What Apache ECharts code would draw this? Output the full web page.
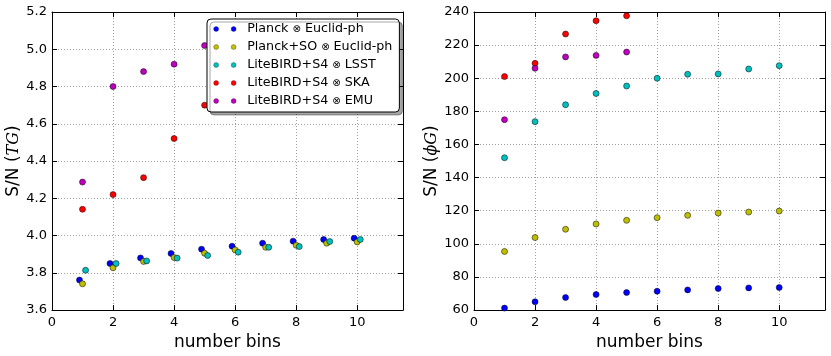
<!DOCTYPE html>
<html>
<head>
<meta charset="utf-8">
<script src="https://cdn.jsdelivr.net/npm/echarts@6/dist/echarts.min.js"></script>
<style>html,body{margin:0;padding:0;background:#fff}#c{width:831px;height:356px}</style>
</head>
<body>
<div id="c"></div>
<script>
// ---- data ----
var bins = [1, 2, 3, 4, 5, 6, 7, 8, 9, 10];
var binsShort = [1, 2, 3, 4, 5];
var seriesNames = ['Planck \u2297 Euclid-ph', 'Planck+SO \u2297 Euclid-ph', 'LiteBIRD+S4 \u2297 LSST', 'LiteBIRD+S4 \u2297 SKA', 'LiteBIRD+S4 \u2297 EMU'];
// S/N (TG)
var tgPlanck   = [3.761, 3.850, 3.880, 3.904, 3.927, 3.943, 3.959, 3.970, 3.979, 3.986];
var tgPlanckSO = [3.741, 3.827, 3.861, 3.882, 3.905, 3.923, 3.937, 3.948, 3.959, 3.966];
var tgLSST     = [3.814, 3.850, 3.864, 3.879, 3.893, 3.911, 3.937, 3.941, 3.968, 3.979];
var tgSKA      = [4.141, 4.220, 4.311, 4.521, 4.700];
var tgEMU      = [4.287, 4.800, 4.880, 4.920, 5.020];
var tgShift    = [-0.1, 0, 0.1, 0, 0];   // horizontal offsets of the bins in the TG panel
// S/N (phiG)
var pgPlanck   = [61.2, 65.0, 67.6, 69.4, 70.6, 71.4, 72.2, 73.0, 73.4, 73.6];
var pgPlanckSO = [95.4, 103.8, 108.8, 112.0, 114.2, 115.8, 117.2, 118.6, 119.2, 119.8];
var pgLSST     = [152.0, 173.8, 184.0, 190.8, 195.3, 200.0, 202.4, 202.6, 205.6, 207.6];
var pgSKA      = [201.0, 209.0, 226.7, 234.7, 237.7];
var pgEMU      = [175.0, 206.0, 212.9, 213.8, 215.8];
var xTicks = [0, 2, 4, 6, 8, 10];
var tgTicks = [3.6, 3.8, 4.0, 4.2, 4.4, 4.6, 4.8, 5.0, 5.2];
var pgTicks = [60, 80, 100, 120, 140, 160, 180, 200, 220, 240];

// ---- styles ----
var colors = ['#0000ff', '#bfbf00', '#00bfbf', '#ff0000', '#bf00bf'];
var FONT = 'DejaVu Sans';

function pairs(xs, ys, shift) {
  return ys.map(function (v, i) { return [xs[i] + shift, v]; });
}
function mk(name, idx, xi, yi, data) {
  return {
    type: 'scatter', name: name, xAxisIndex: xi, yAxisIndex: yi,
    data: data, symbol: 'circle', symbolSize: 6, clip: false,
    itemStyle: { color: colors[idx], borderColor: '#000', borderWidth: 0.5, opacity: 1 },
    emphasis: { disabled: true }, animation: false
  };
}
var tgSets = [tgPlanck, tgPlanckSO, tgLSST, tgSKA, tgEMU];
var pgSets = [pgPlanck, pgPlanckSO, pgLSST, pgSKA, pgEMU];
var series = [];
tgSets.forEach(function (s, i) {
  series.push(mk(seriesNames[i], i, 0, 0, pairs(s.length === 10 ? bins : binsShort, s, tgShift[i])));
});
pgSets.forEach(function (s, i) {
  series.push(mk(seriesNames[i], i, 2, 2, pairs(s.length === 10 ? bins : binsShort, s, 0)));
});

function inTicks(list) {
  return function (v) {
    for (var i = 0; i < list.length; i++) if (Math.abs(list[i] - v) < 1e-6) return true;
    return false;
  };
}
var gridLine = { show: true, lineStyle: { color: '#a0a0a0', type: [1, 2], width: 1 } };
function xAx(grid, pos, main) {
  return {
    type: 'value', gridIndex: grid, position: pos, min: 0, max: 11.5, interval: 2,
    axisLine: { show: true, onZero: false, lineStyle: { color: '#000', width: 1 } },
    axisTick: { show: true, inside: true, length: 5, lineStyle: { color: '#000' } },
    axisLabel: main ? { show: true, color: '#000', fontFamily: FONT, fontSize: 13, margin: 6,
      formatter: function (v) { return inTicks(xTicks)(v) ? String(v) : ''; } } : { show: false },
    splitLine: main ? gridLine : { show: false },
    name: main ? 'number bins' : '', nameLocation: 'middle', nameGap: 19,
    nameTextStyle: { color: '#000', fontFamily: FONT, fontSize: 17 }
  };
}
function yAx(grid, pos, main, mn, mx, iv, ticks, dec, name, rich) {
  return {
    type: 'value', gridIndex: grid, position: pos, min: mn, max: mx, interval: iv,
    axisLine: { show: true, onZero: false, lineStyle: { color: '#000', width: 1 } },
    axisTick: { show: true, inside: true, length: 5, lineStyle: { color: '#000' } },
    axisLabel: main ? { show: true, color: '#000', fontFamily: FONT, fontSize: 13, margin: 5,
      formatter: function (v) { return inTicks(ticks)(v) ? v.toFixed(dec) : ''; } } : { show: false },
    splitLine: main ? gridLine : { show: false },
    name: main ? name : '', nameLocation: 'middle', nameGap: dec === 1 ? 28 : 34,
    nameTextStyle: { color: '#000', fontFamily: FONT, fontSize: 17, rich: rich }
  };
}
var rich = { i: { fontFamily: 'DejaVu Serif', fontStyle: 'italic', fontSize: 16, color: '#000' } };

var legendText = { color: '#000', fontFamily: FONT, fontSize: 12.7, lineHeight: 14,
  rich: { o: { fontFamily: FONT, fontSize: 10, color: '#000', lineHeight: 14 } } };
var legendMarker = { borderColor: '#222', borderWidth: 0.3 };

var option = {
  animation: false,
  backgroundColor: '#fff',
  grid: [
    { left: 52, right: 428, top: 12, bottom: 44 },
    { left: 474, right: 6, top: 12, bottom: 44 }
  ],
  xAxis: [xAx(0, 'bottom', true), xAx(0, 'top', false), xAx(1, 'bottom', true), xAx(1, 'top', false)],
  yAxis: [
    yAx(0, 'left', true, 3.6, 5.2, 0.2, tgTicks, 1, 'S/N ({i|TG})', rich),
    yAx(0, 'right', false, 3.6, 5.2, 0.2, tgTicks, 1, '', rich),
    yAx(1, 'left', true, 60, 240, 20, pgTicks, 0, 'S/N ({i|\u03d5G})', rich),
    yAx(1, 'right', false, 60, 240, 20, pgTicks, 0, '', rich)
  ],
  legend: [
    {
      data: seriesNames, orient: 'vertical', left: 207, top: 19, z: 10,
      icon: 'circle', itemWidth: 5, itemHeight: 5, itemGap: 4,
      padding: [3, 7, 4, 24],
      itemStyle: legendMarker,
      backgroundColor: '#fff', borderColor: '#000', borderWidth: 1, borderRadius: 4,
      shadowColor: 'rgba(0,0,0,0.35)', shadowBlur: 0, shadowOffsetX: 3, shadowOffsetY: 3,
      formatter: function (n) { return n.replace('\u2297', '{o|\u2297}'); },
      textStyle: Object.assign({ padding: [0, 0, 0, 6] }, legendText),
      selectedMode: false
    },
    {
      data: seriesNames, orient: 'vertical', left: 213.5, top: 22, z: 11,
      icon: 'circle', itemWidth: 5, itemHeight: 5, itemGap: 4,
      padding: 0,
      itemStyle: legendMarker,
      formatter: function () { return ' '; },
      textStyle: legendText,
      selectedMode: false
    }
  ],
  series: series
};
var chart = echarts.init(document.getElementById('c'), null, { renderer: 'canvas' });
chart.setOption(option);
</script>
</body>
</html>
